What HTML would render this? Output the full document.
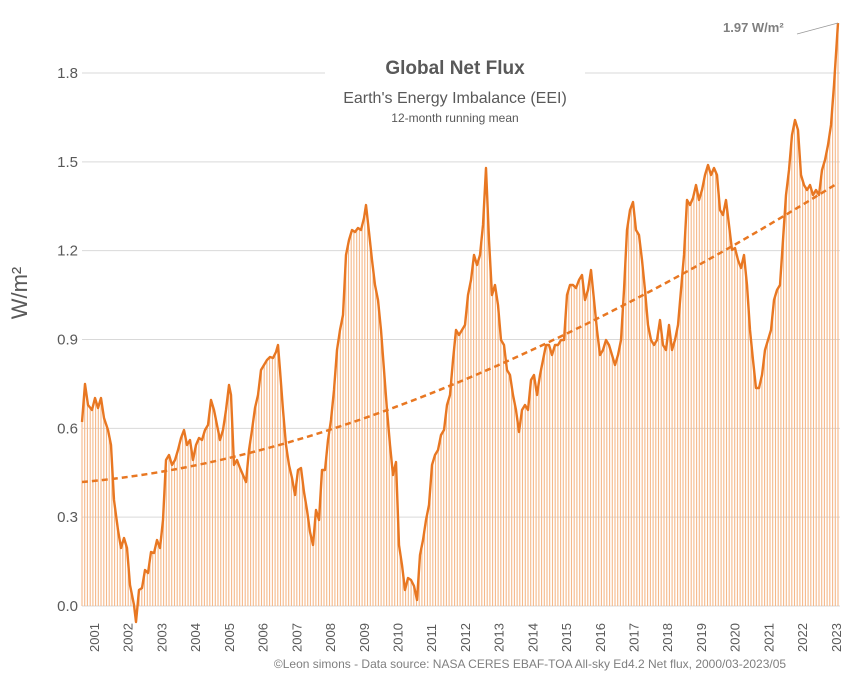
<!DOCTYPE html>
<html><head><meta charset="utf-8"><style>
body{margin:0;background:#fff;}
svg{display:block;font-family:"Liberation Sans",sans-serif;}
</style></head><body>
<svg id="s" width="860" height="683" viewBox="0 0 860 683">
<g id="grid" stroke="#d9d9d9" stroke-width="1"></g>
<g id="bars" stroke="#f5b98a" stroke-width="1.1"></g>
<rect x="325" y="60" width="260" height="70" fill="#fff"/>
<path d="M82,482 Q400,455 838,183" fill="none" stroke="#e87722" stroke-width="2.5" stroke-dasharray="6,4"/>
<polyline id="ln" fill="none" stroke="#e87722" stroke-width="2.4" stroke-linejoin="round"/>
<line x1="797" y1="34" x2="838" y2="23" stroke="#999" stroke-width="0.8"/>
<text x="723" y="32" font-size="13" font-weight="bold" fill="#7f7f7f">1.97 W/m²</text>
<text x="455" y="74" font-size="19" font-weight="bold" fill="#595959" text-anchor="middle">Global Net Flux</text>
<text x="455" y="103" font-size="16" fill="#595959" text-anchor="middle">Earth's Energy Imbalance (EEI)</text>
<text x="455" y="122" font-size="12" fill="#595959" text-anchor="middle">12-month running mean</text>
<text transform="translate(27,293) rotate(-90)" font-size="22" fill="#595959" text-anchor="middle">W/m²</text>
<g id="yl" font-size="15" fill="#595959" text-anchor="end"></g>
<g id="xl" font-size="13" fill="#595959"></g>
<text x="530" y="668" font-size="12" fill="#7f7f7f" text-anchor="middle">©Leon simons - Data source: NASA CERES EBAF-TOA All-sky Ed4.2 Net flux, 2000/03-2023/05</text>
</svg>
<script>
var ns="http://www.w3.org/2000/svg";
function el(t,a,p,txt){var e=document.createElementNS(ns,t);for(var k in a)e.setAttribute(k,a[k]);if(txt)e.textContent=txt;document.getElementById(p).appendChild(e);}
var labs=["0.0","0.3","0.6","0.9","1.2","1.5","1.8"];
for(var i=0;i<7;i++){var y=606-i*88.83;el("line",{x1:82,x2:840,y1:y,y2:y},"grid");el("text",{x:78,y:y+5},"yl",labs[i]);}
for(var yr=2001;yr<=2023;yr++){var x=94+(yr-2001)*33.72;el("text",{transform:"translate("+(x+5)+",652) rotate(-90)"},"xl",""+yr);}
var P=[82,422,85,384,88,405,92,410,95,398,98,408,101,398,104,418,108,430,111,445,114,500,118,530,121,548,124,538,127,548,130,585,134,605,136,622,139,590,142,588,145,570,148,573,151,552,154,553,157,540,160,548,163,520,166,460,169,455,172,465,175,460,178,450,181,438,184,430,187,445,190,440,193,460,196,445,199,438,202,440,205,430,208,425,211,400,214,410,217,425,220,440,223,430,226,410,229,385,231,395,234,465,237,460,240,468,243,475,246,482,249,450,252,430,255,408,258,395,261,370,264,365,267,360,270,357,273,358,276,352,278,345,280,370,283,410,286,445,289,465,292,478,295,495,298,470,301,468,304,492,307,510,310,532,313,545,316,510,319,520,322,470,325,470,328,440,331,420,334,390,337,350,340,330,343,315,346,255,349,240,352,230,355,232,358,228,361,230,364,218,366,205,369,232,372,260,375,285,378,300,381,330,384,370,387,410,390,445,393,475,396,462,399,545,402,565,405,590,408,578,411,580,414,586,417,600,420,555,423,540,426,520,429,505,432,465,435,455,438,450,441,435,444,430,447,405,450,395,453,360,456,330,459,335,462,330,465,325,468,295,471,280,474,255,477,265,480,255,483,225,486,168,489,240,492,295,495,285,498,305,501,340,504,345,507,370,510,375,513,395,516,410,519,432,522,410,525,405,528,410,531,380,534,375,537,395,540,375,543,360,546,345,549,345,552,355,555,345,558,345,561,340,564,340,567,295,570,285,573,285,576,288,579,280,582,275,585,300,588,290,591,270,594,300,597,330,600,355,603,350,606,340,609,345,612,355,615,365,618,355,621,340,624,290,627,230,630,210,633,202,636,230,639,235,642,260,645,290,648,325,651,340,654,345,657,340,660,320,663,345,666,350,669,325,672,350,675,340,678,325,681,290,684,255,687,200,690,205,693,198,696,185,699,200,702,190,705,175,708,165,711,175,714,168,717,175,720,210,723,215,726,200,729,225,732,250,735,248,738,260,741,268,744,255,747,285,750,330,753,360,756,388,759,388,762,375,765,350,768,340,771,330,774,300,777,290,780,285,783,240,786,195,789,170,792,135,795,120,798,130,801,175,804,185,807,190,810,185,813,195,816,190,819,195,822,170,825,160,828,145,831,125,834,85,838,23];
var pts=[];for(var i=0;i<P.length;i+=2)pts.push(P[i]+","+P[i+1]);
document.getElementById("ln").setAttribute("points",pts.join(" "));
function yat(x){for(var i=0;i<P.length-2;i+=2){if(x>=P[i]&&x<=P[i+2]){var t=(x-P[i])/(P[i+2]-P[i]);return P[i+1]+t*(P[i+3]-P[i+1]);}}return P[P.length-1];}
for(var m=0;m<279;m++){var x=82+m*(756/278);var y=yat(x);if(y<606)el("line",{x1:x.toFixed(1),x2:x.toFixed(1),y1:y.toFixed(1),y2:606},"bars");}
</script>
</body></html>
